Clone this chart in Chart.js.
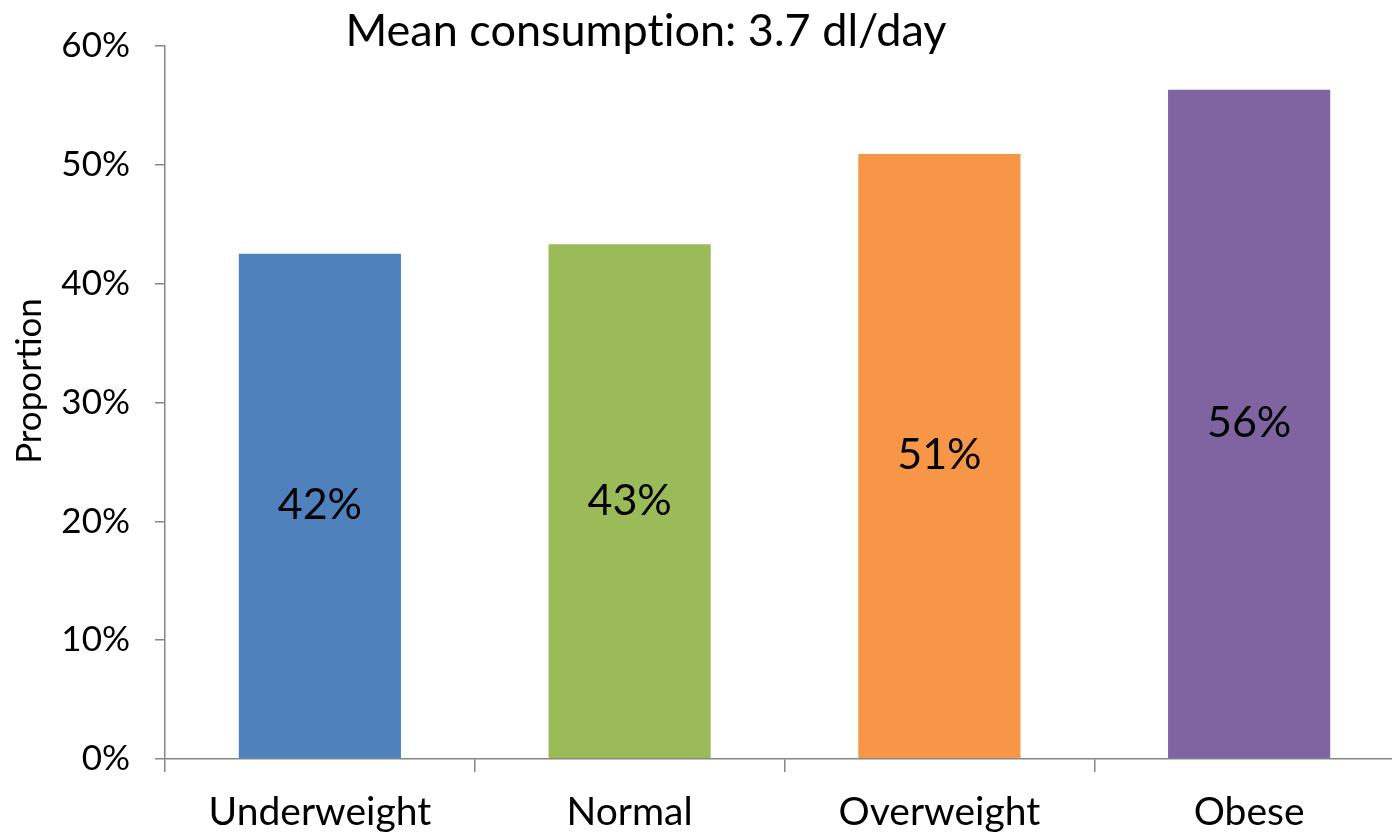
<!DOCTYPE html>
<html>
<head>
<meta charset="utf-8">
<script src="https://cdn.jsdelivr.net/npm/chart.js@4.4.1/dist/chart.umd.min.js"></script>
<style>
html,body{margin:0;padding:0;background:#fff;overflow:hidden;}
#wrap{position:relative;width:1404px;height:835px;}
</style>
</head>
<body>
<div id="wrap"><canvas id="c"></canvas></div>
<script>
const categories = ["Underweight", "Normal", "Overweight", "Obese"];
const proportions = [42.6, 43.4, 51.0, 56.4];
const valueLabels = ["42%", "43%", "51%", "56%"];
const barColors = ["#4F81BD", "#9BBB59", "#F79646", "#8064A2"];
const yTicks = [0, 10, 20, 30, 40, 50, 60];
const chartTitle = "Mean consumption: 3.7 dl/day";
const yAxisTitle = "Proportion";

const FONT = "Lato, 'Open Sans', sans-serif";

const overlayText = {
  id: "overlayText",
  afterDatasetsDraw(chart) {
    const ctx = chart.ctx;
    const meta = chart.getDatasetMeta(0);
    ctx.save();
    ctx.fillStyle = "#000";
    ctx.textAlign = "center";
    ctx.textBaseline = "middle";
    ctx.font = "43px " + FONT;
    meta.data.forEach((bar, i) => {
      const p = bar.getProps(["x", "y", "base"], true);
      ctx.fillText(valueLabels[i], p.x, (p.y + p.base) / 2);
    });
    ctx.font = "45px " + FONT;
    // zero-width non-joiner avoids the "ti" ligature
    ctx.fillText(chartTitle.replace("ti", "t\u200Ci"), 646, 31);
    ctx.translate(30, 381);
    ctx.rotate(-Math.PI / 2);
    ctx.font = "35px " + FONT;
    ctx.fillText(yAxisTitle, 0, 0);
    ctx.restore();
  }
};

new Chart(document.getElementById("c"), {
  type: "bar",
  data: {
    labels: categories,
    datasets: [{
      data: proportions,
      backgroundColor: barColors,
      borderColor: "#ffffff",
      borderWidth: 1,
      barPercentage: 0.53,
      categoryPercentage: 1.0
    }]
  },
  options: {
    responsive: true,
    maintainAspectRatio: false,
    animation: false,
    devicePixelRatio: 1,
    layout: { padding: { top: 45, left: 0, right: 0, bottom: 0 } },
    plugins: { legend: { display: false }, tooltip: { enabled: false }, title: { display: false } },
    scales: {
      x: {
        offset: true,
        grid: { offset: true, drawOnChartArea: false, drawTicks: true, tickLength: 13, color: "#868686", lineWidth: 1.5 },
        border: { color: "#868686", width: 1.5 },
        ticks: { font: { family: FONT, size: 39 }, color: "#000", padding: 17, maxRotation: 0 },
        afterFit(scale) { scale.height = 76; }
      },
      y: {
        min: 0, max: 60,
        afterBuildTicks(scale) { scale.ticks = yTicks.map(v => ({ value: v })); },
        grid: { drawOnChartArea: false, drawTicks: true, tickLength: 10, color: "#868686", lineWidth: 1.5 },
        border: { color: "#868686", width: 1.5 },
        ticks: { font: { family: FONT, size: 35 }, color: "#000", padding: 25, callback: v => v + "%" },
        afterFit(scale) { scale.width = 165; }
      }
    }
  },
  plugins: [overlayText]
});
</script>
</body>
</html>
